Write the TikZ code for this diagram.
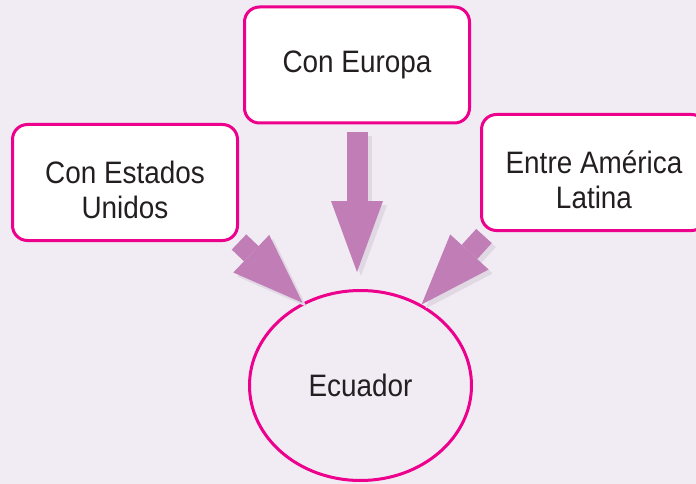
\documentclass[tikz,border=0pt]{standalone}
\usepackage{fontspec}
\setmainfont{Liberation Sans}[FakeStretch=0.9]
\usepackage{tikz}
\usetikzlibrary{arrows.meta,shapes.geometric}
\definecolor{bgviolet}{HTML}{F1EBF4}
\definecolor{framepink}{HTML}{EC008C}
\definecolor{arrowmauve}{HTML}{C17DB6}
\definecolor{shadowgray}{HTML}{E0D8E3}
\definecolor{textgray}{HTML}{231F20}
\newcommand{\lowline}{\rule{0pt}{37pt}}

\begin{document}
\begin{tikzpicture}[x=1pt,y=-1pt,
  box/.style={draw=framepink,line width=3pt,fill=white,rounded corners=15pt,
    minimum width=225pt,minimum height=116pt,align=center,text=textgray,
    font=\fontsize{31}{35}\selectfont},
  country/.style={ellipse,draw=framepink,line width=3pt,inner sep=0pt,
    minimum width=222pt,minimum height=190pt,text=textgray,
    font=\fontsize{31}{35}\selectfont},
  bigarrow/.style={line width=21pt,arrowmauve,
    -{Triangle[length=71pt,width=52pt,line width=0pt]}},
  arrowshade/.style={bigarrow,shadowgray,transform canvas={xshift=4pt,yshift=-4pt}}]
  \fill[bgviolet] (0,0) rectangle (696,484);
  \useasboundingbox (0,0) rectangle (696,484);

  % boxes
  \node[box] (europa) at (357,65) {Con Europa};
  \node[box] (estados) at (125,182.5) {\lowline Con Estados\\Unidos};
  \node[box] (latina) at (594,172.5) {\lowline Entre América\\Latina};
  \node[country] (ecuador) at (360.5,385.5) {Ecuador};

  % arrows
  \draw[arrowshade,shorten >=17pt] ([yshift=-8pt]europa.south) -- (europa.south |- ecuador.north);
  \draw[arrowshade] (estados.south east) -- (ecuador.125);
  \draw[arrowshade] ([xshift=4pt,yshift=-4pt]latina.south west) -- (ecuador.53);
  \draw[bigarrow,shorten >=17pt] ([yshift=-8pt]europa.south) -- (europa.south |- ecuador.north);
  \draw[bigarrow] (estados.south east) -- (ecuador.125);
  \draw[bigarrow] ([xshift=4pt,yshift=-4pt]latina.south west) -- (ecuador.53);
\end{tikzpicture}
\end{document}
